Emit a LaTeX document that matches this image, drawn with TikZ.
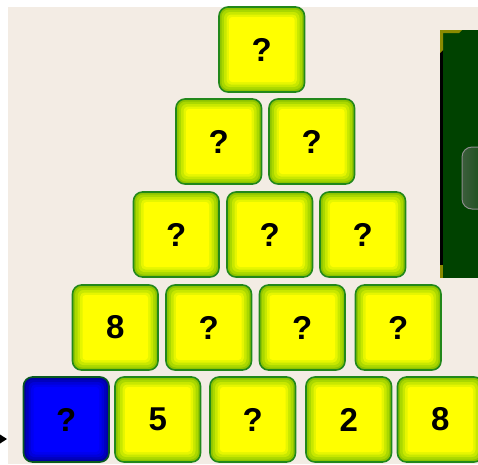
\documentclass[tikz,border=0pt]{standalone}
\usepackage{fontspec}
\setmainfont{Liberation Sans}
\usetikzlibrary{calc}
\definecolor{bgbeige}{HTML}{F3ECE4}
\definecolor{tborder}{HTML}{22881A}
\definecolor{tyA}{HTML}{8EC400}
\definecolor{tyB}{HTML}{AAD800}
\definecolor{tyC}{HTML}{C8E800}
\definecolor{tyD}{HTML}{E6F600}
\definecolor{tyE}{HTML}{FFFF00}
\definecolor{bborder}{HTML}{0A5A20}
\definecolor{tbA}{HTML}{0000A0}
\definecolor{tbB}{HTML}{0000BE}
\definecolor{tbC}{HTML}{0000DA}
\definecolor{tbD}{HTML}{0000F0}
\definecolor{tbE}{HTML}{0000FF}
\definecolor{panelgreen}{HTML}{004200}
\definecolor{paneledge}{HTML}{8A8A00}
\definecolor{btnedge}{HTML}{8C8C8C}
\definecolor{btnlight}{HTML}{3C5E3C}
\tikzset{
  tilebase/.style={rectangle, rounded corners=9pt, line width=1.6pt,
    minimum width=85.5pt, minimum height=85pt, inner sep=0pt, outer sep=0pt},
  lbl/.style={inner sep=0pt, font=\bfseries\fontsize{33}{33}\selectfont, text=black},
}
\newcommand\tilerun[9]{% name, left, top, label, border, c1..c4 (fills)
  \node[tilebase, draw=#5, fill=#6] (#1) at (#2+42.75, #3+42.5) {};
  \fill[#7, rounded corners=7.5pt] ($(#1.north west)+(2.5,2.5)$) rectangle ($(#1.south east)+(-2.5,-2.5)$);
  \fill[#8, rounded corners=6pt] ($(#1.north west)+(5,5)$) rectangle ($(#1.south east)+(-5,-5)$);
  \fill[#9, rounded corners=4.5pt] ($(#1.north west)+(7.5,7.5)$) rectangle ($(#1.south east)+(-7.5,-7.5)$);
}
\newcommand\ytile[4]{%
  \tilerun{#1}{#2}{#3}{#4}{tborder}{tyA}{tyB}{tyC}{tyD}
  \fill[tyE, rounded corners=3pt] ($(#1.north west)+(10,10)$) rectangle ($(#1.south east)+(-10,-10)$);
  \node[lbl] (#1l) at (#1) {#4};
}
\newcommand\btile[4]{%
  \tilerun{#1}{#2}{#3}{#4}{bborder}{tbA}{tbB}{tbC}{tbD}
  \fill[tbE, rounded corners=3pt] ($(#1.north west)+(10,10)$) rectangle ($(#1.south east)+(-10,-10)$);
  \node[lbl] (#1l) at (#1) {#4};
}
\begin{document}
\begin{tikzpicture}[x=1pt,y=-1pt]
\useasboundingbox (0,0) rectangle (478,464);
\clip (0,0) rectangle (478,464);
\fill[white] (0,0) rectangle (478,464);
\fill[bgbeige] (8,7) rectangle (478,464);
% side panel
\fill[panelgreen] (440,30) rectangle (478,277.5);
\fill[black] (440,30) rectangle (442.5,277.5);
\fill[paneledge] (440,30) -- (462,30) -- (459,33) -- (443,33) -- (443,50) -- (440,53) -- cycle;
\fill[paneledge] (440,265) rectangle (442.5,277.5);
\draw[btnedge, line width=1pt, left color=btnlight, right color=panelgreen, rounded corners=10pt] (462,147) rectangle (500,209);
% tiles
\ytile{a1}{219}{7}{?}
\ytile{b1}{176}{99}{?}
\ytile{b2}{269}{99}{?}
\ytile{c1}{133.5}{192}{?}
\ytile{c2}{227}{192}{?}
\ytile{c3}{320}{192}{?}
\ytile{d1}{72.5}{285}{8}
\ytile{d2}{166}{285}{?}
\ytile{d3}{259.5}{285}{?}
\ytile{d4}{355.5}{285}{?}
\btile{e1}{23.5}{377}{?}
\ytile{e2}{115}{377}{5}
\ytile{e3}{210}{377}{?}
\ytile{e4}{306}{377}{2}
\ytile{e5}{397.5}{377}{8}
% pointer
\fill[black] (0,434.5) -- (7,439) -- (0,443.5) -- cycle;
\end{tikzpicture}
\end{document}
